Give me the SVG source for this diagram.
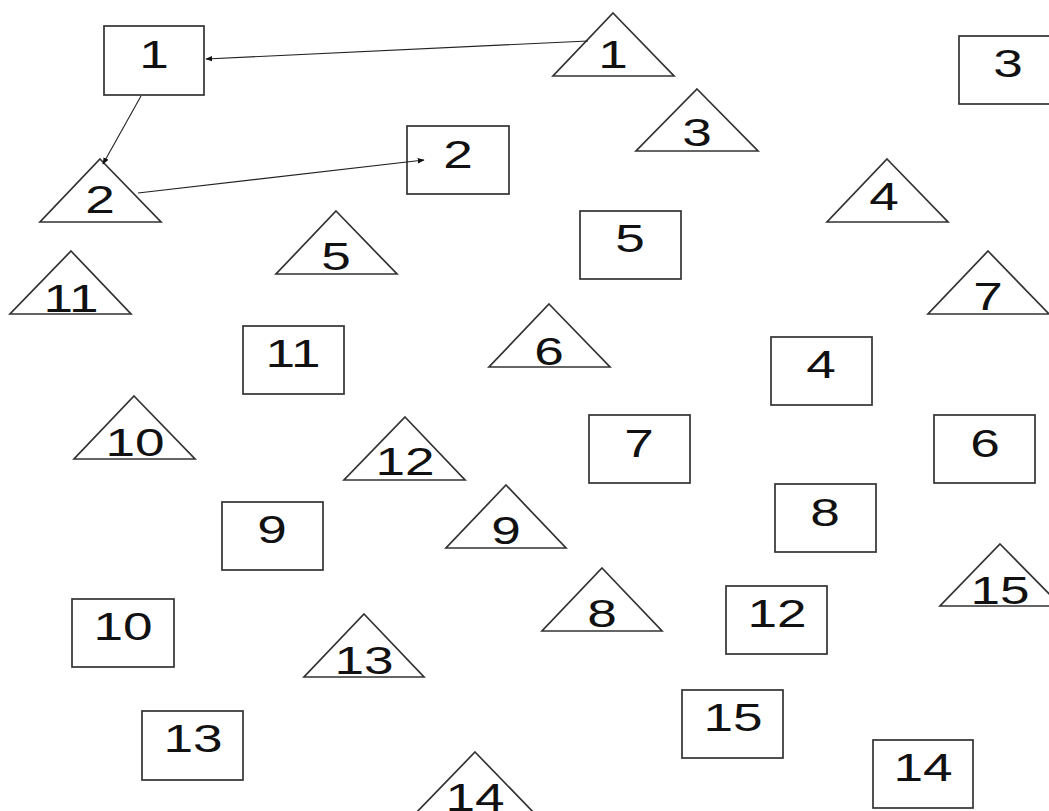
<svg xmlns="http://www.w3.org/2000/svg" width="1049" height="811" viewBox="0 0 1049 811">
<style>
.s{fill:#fff;stroke:#333;stroke-width:1.7}
.t{fill:#fff;stroke:#333;stroke-width:1.7;stroke-linejoin:miter}
.l{font-family:"Liberation Sans",Arial,sans-serif;font-size:38px;fill:#111;text-anchor:middle}
.e{fill:none;stroke:#222;stroke-width:1.1}
</style>
<defs>
<marker id="a" viewBox="0 0 10 10" refX="9" refY="5" markerWidth="7" markerHeight="7" orient="auto" markerUnits="userSpaceOnUse"><path d="M0,1 L10,5 L0,9 z" fill="#111"/></marker>
</defs>
<rect width="1049" height="811" fill="#fff"/>
<g id="nodes">
<g id="s1"><rect class="s" x="104" y="26" width="100" height="69"/><text class="l" transform="translate(154,68) scale(1.4,1)">1</text></g>
<g id="s2"><rect class="s" x="407" y="126" width="102" height="68"/><text class="l" transform="translate(458,168) scale(1.4,1)">2</text></g>
<g id="s3"><rect class="s" x="959" y="36" width="100" height="68"/><text class="l" transform="translate(1008,77) scale(1.4,1)">3</text></g>
<g id="s5"><rect class="s" x="580" y="211" width="101" height="68"/><text class="l" transform="translate(630,252) scale(1.4,1)">5</text></g>
<g id="s11"><rect class="s" x="243" y="326" width="101" height="68"/><text class="l" transform="translate(293,367) scale(1.4,1)">11</text></g>
<g id="s4"><rect class="s" x="771" y="337" width="101" height="68"/><text class="l" transform="translate(821,378) scale(1.4,1)">4</text></g>
<g id="s7"><rect class="s" x="589" y="415" width="101" height="68"/><text class="l" transform="translate(639,457) scale(1.4,1)">7</text></g>
<g id="s6"><rect class="s" x="934" y="415" width="101" height="68"/><text class="l" transform="translate(985,457) scale(1.4,1)">6</text></g>
<g id="s8"><rect class="s" x="775" y="484" width="101" height="68"/><text class="l" transform="translate(825,526) scale(1.4,1)">8</text></g>
<g id="s9"><rect class="s" x="222" y="502" width="101" height="68"/><text class="l" transform="translate(272,543) scale(1.4,1)">9</text></g>
<g id="s10"><rect class="s" x="72" y="599" width="102" height="68"/><text class="l" transform="translate(123,640) scale(1.4,1)">10</text></g>
<g id="s12"><rect class="s" x="726" y="586" width="101" height="68"/><text class="l" transform="translate(777,627) scale(1.4,1)">12</text></g>
<g id="s15"><rect class="s" x="682" y="690" width="101" height="68"/><text class="l" transform="translate(733,731) scale(1.4,1)">15</text></g>
<g id="s13"><rect class="s" x="142" y="711" width="101" height="69"/><text class="l" transform="translate(193,752) scale(1.4,1)">13</text></g>
<g id="s14"><rect class="s" x="873" y="740" width="100" height="68"/><text class="l" transform="translate(923,781) scale(1.4,1)">14</text></g>

<g id="t1"><path class="t" d="M613,13 L674,76 L553,76 Z"/><text class="l" transform="translate(613,68) scale(1.4,1)">1</text></g>
<g id="t3"><path class="t" d="M697,89 L758,151 L636,151 Z"/><text class="l" transform="translate(697,146) scale(1.4,1)">3</text></g>
<g id="t2"><path class="t" d="M100,159 L161,222 L40,222 Z"/><text class="l" transform="translate(100,213) scale(1.4,1)">2</text></g>
<g id="t4"><path class="t" d="M887,159 L948,222 L827,222 Z"/><text class="l" transform="translate(884,210) scale(1.4,1)">4</text></g>
<g id="t5"><path class="t" d="M336,211 L397,274 L276,274 Z"/><text class="l" transform="translate(336,270) scale(1.4,1)">5</text></g>
<g id="t11"><path class="t" d="M71,251 L131,314 L10,314 Z"/><text class="l" transform="translate(71,312) scale(1.4,1)">11</text></g>
<g id="t7"><path class="t" d="M988,251 L1049,314 L928,314 Z"/><text class="l" transform="translate(988,310) scale(1.4,1)">7</text></g>
<g id="t6"><path class="t" d="M549,304 L610,367 L489,367 Z"/><text class="l" transform="translate(549,365) scale(1.4,1)">6</text></g>
<g id="t10"><path class="t" d="M134,396 L195,459 L74,459 Z"/><text class="l" transform="translate(135,456) scale(1.4,1)">10</text></g>
<g id="t12"><path class="t" d="M405,417 L465,480 L344,480 Z"/><text class="l" transform="translate(405,475) scale(1.4,1)">12</text></g>
<g id="t9"><path class="t" d="M506,485 L566,548 L446,548 Z"/><text class="l" transform="translate(506,544) scale(1.4,1)">9</text></g>
<g id="t15"><path class="t" d="M1000,544 L1061,606 L940,606 Z"/><text class="l" transform="translate(1000,604) scale(1.4,1)">15</text></g>
<g id="t8"><path class="t" d="M602,568 L662,631 L542,631 Z"/><text class="l" transform="translate(602,627) scale(1.4,1)">8</text></g>
<g id="t13"><path class="t" d="M364,614 L424,677 L304,677 Z"/><text class="l" transform="translate(364,674) scale(1.4,1)">13</text></g>
<g id="t14"><path class="t" d="M475,752 L536,815 L414,815 Z"/><text class="l" transform="translate(475,811) scale(1.4,1)">14</text></g>
</g>
<g id="connectors">
<line class="e" x1="588" y1="41" x2="206" y2="59" marker-end="url(#a)"/>
<line class="e" x1="141" y1="96" x2="103" y2="164" marker-end="url(#a)"/>
<line class="e" x1="138" y1="193" x2="424" y2="160" marker-end="url(#a)"/>
</g>
</svg>
